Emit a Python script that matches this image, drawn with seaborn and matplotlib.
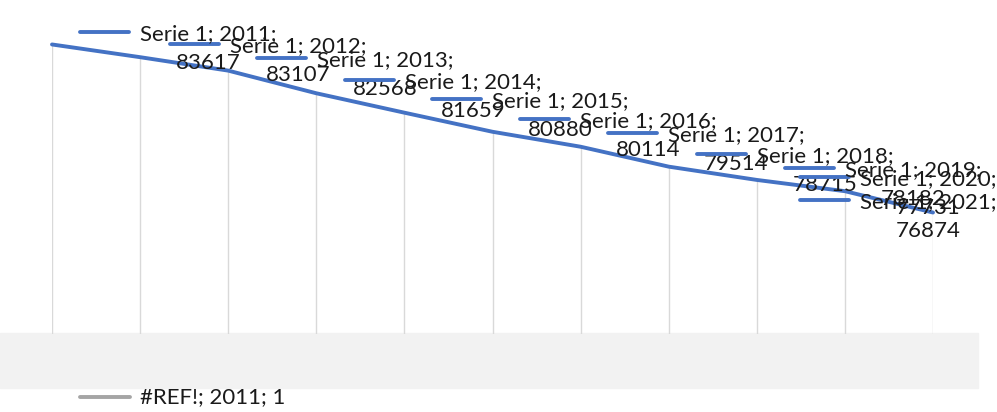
import matplotlib.pyplot as plt
import pandas as pd
import seaborn as sns
from matplotlib.lines import Line2D
from matplotlib.patches import Rectangle

years = [2011, 2012, 2013, 2014, 2015, 2016, 2017, 2018, 2019, 2020, 2021]
values = [83617, 83107, 82568, 81659, 80880, 80114, 79514, 78715, 78182, 77731, 76874]
series_name = "Serie 1"
ref_label = "#REF!; 2011; 1"

# scattered legend entries, in figure pixels from the top-left corner
marker_x = [80, 170, 257, 345, 432, 520, 608, 697, 785, 800, 800]
marker_y = [32, 44, 58, 80, 99, 119, 133, 154, 168, 177, 200]

W, H = 997, 412
BLUE = "#4472C4"
TEXT = "#1a1a1a"


def fx(px):
    return px / W


def fy(py):
    return 1 - py / H


sns.set_theme(style="white")
plt.rcParams["font.family"] = ["Lato", "DejaVu Sans"]

df = pd.DataFrame({"year": years, "value": values})

fig = plt.figure(figsize=(W / 100, H / 100), dpi=100)
fig.patch.set_facecolor("white")

# grey band under the plot area (empty category axis)
fig.add_artist(Rectangle((0, fy(388)), fx(978), (388 - 333) / H,
                         transform=fig.transFigure, color="#f2f2f2", zorder=0))

ax = fig.add_axes([fx(52), fy(334), fx(933) - fx(52), (334 - 10) / H])
ax.set_xlim(years[0], years[-1])
ax.set_ylim(72000, 85000)
ax.axis("off")

# drop lines from each point to the axis
ax.vlines(df["year"], 72000, df["value"], color="#d9d9d9", linewidth=1, zorder=1)
sns.lineplot(data=df, x="year", y="value", color=BLUE, linewidth=2.8, ax=ax,
             zorder=2, clip_on=False)

for yr, val, mx, my in zip(years, values, marker_x, marker_y):
    fig.add_artist(Line2D([fx(mx), fx(mx + 49)], [fy(my), fy(my)],
                          transform=fig.transFigure, color=BLUE, linewidth=2.8, zorder=3))
    t = fig.text(fx(mx + 60), fy(my + 2), f"{series_name}; {yr};",
                 ha="left", va="center", fontsize=16, color=TEXT, zorder=4)
    ax.annotate(str(val), xy=(0.5, 0.5), xycoords=t, xytext=(0, -29),
                textcoords="offset pixels", ha="center", va="center",
                fontsize=16, color=TEXT, zorder=4, annotation_clip=False)

fig.add_artist(Line2D([fx(80), fx(130)], [fy(397), fy(397)],
                      transform=fig.transFigure, color="#a5a5a5", linewidth=2.8))
fig.text(fx(140), fy(397), ref_label, ha="left", va="center", fontsize=16, color=TEXT)

fig.savefig("out.png", dpi=100)
